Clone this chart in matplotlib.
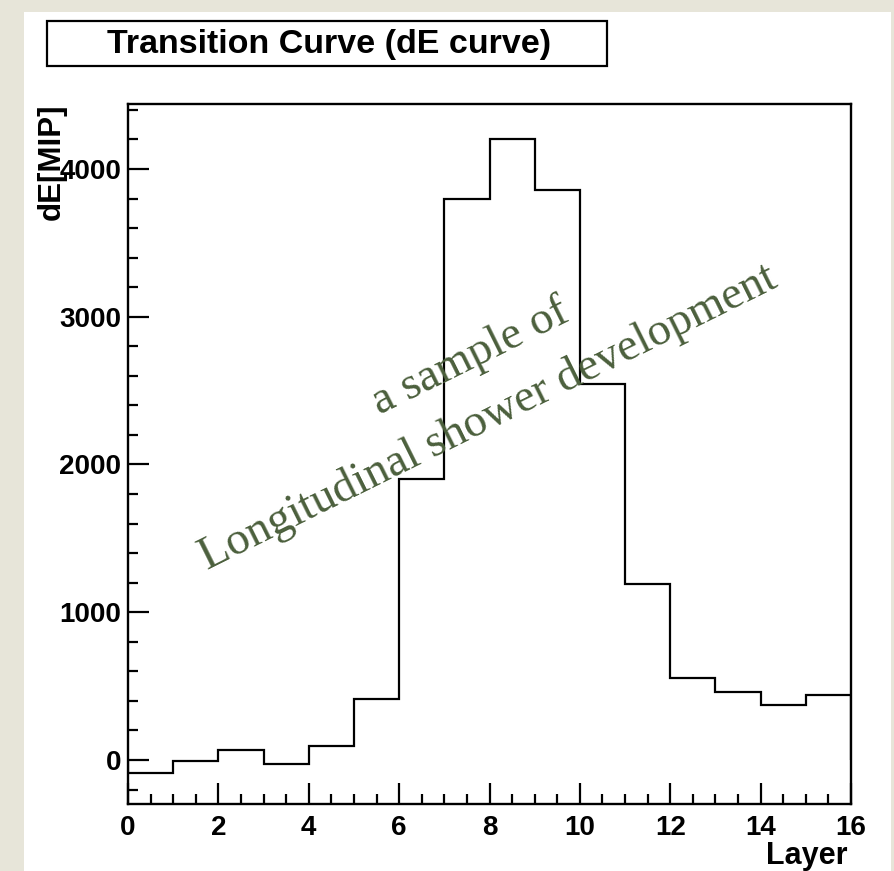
import matplotlib
matplotlib.use("Agg")
import matplotlib.pyplot as plt
from matplotlib.patches import Rectangle
from matplotlib.ticker import MultipleLocator
import numpy as np

# dE per layer (MIP), one bin per layer
layer_edges = list(range(17))
dE_values = [-90, -9, 68, -27, 95, 413, 1905, 3794, 4206, 3855,
             2542, 1191, 553, 458, 372, 440]

title_text = "Transition Curve (dE curve)"
note_lines = ["a sample of", "Longitudinal shower development"]

W, H = 894, 871
fig = plt.figure(figsize=(W / 100, H / 100), dpi=100)
fig.patch.set_facecolor("#e7e5d9")

# white canvas behind the pad
fig.add_artist(Rectangle((24 / W, 0), (891 - 24) / W, (H - 12) / H,
                         transform=fig.transFigure, facecolor="white",
                         edgecolor="none", zorder=0))

ax = fig.add_axes([128 / W, 1 - 804 / H, (851 - 128) / W, (804 - 104) / H])
ax.set_facecolor("white")

ax.stairs(dE_values, layer_edges, color="black", linewidth=1.6)

ax.set_xlim(0, 16)
ax.set_ylim(-298, 4440)
ax.xaxis.set_major_locator(MultipleLocator(2))
ax.xaxis.set_minor_locator(MultipleLocator(0.5))
ax.yaxis.set_major_locator(MultipleLocator(1000))
ax.yaxis.set_minor_locator(MultipleLocator(200))

for side in ("left", "bottom", "right", "top"):
    ax.spines[side].set_linewidth(1.7)
ax.tick_params(which="both", direction="in", top=False, right=False, width=1.6)
ax.tick_params(which="major", length=15)
ax.tick_params(which="minor", length=7.5)
ax.tick_params(axis="x", which="major", pad=8)
ax.tick_params(axis="y", which="major", pad=5)
for lab in ax.get_xticklabels() + ax.get_yticklabels():
    lab.set_fontfamily("Liberation Sans")
    lab.set_fontweight("bold")
    lab.set_fontsize(20)

# axis titles placed the ROOT way: flush to the axis ends
fig.text(848 / W, 1 - 864 / H, "Layer", ha="right", va="baseline",
         fontsize=22, fontweight="bold", family="Liberation Sans")
fig.text(52 / W, 1 - 104 / H, "dE[MIP]", ha="center", va="top", rotation=90,
         fontsize=22.5, fontweight="bold", family="Liberation Sans")

# title box
fig.add_artist(Rectangle((47 / W, 1 - 66 / H), (607 - 47) / W, 45 / H,
                         transform=fig.transFigure, facecolor="white",
                         edgecolor="black", linewidth=1.6, zorder=3))
fig.text(329 / W, 1 - 44 / H, title_text, ha="center", va="center",
         fontsize=24.5, fontweight="bold", family="Liberation Sans", zorder=4)

# slanted note over the histogram
note_color = "#4b5f3c"
fig.text(470 / W, 1 - 357 / H, note_lines[0], ha="center", va="center",
         rotation=26.4, rotation_mode="anchor", fontsize=33.5,
         family="Liberation Serif", color=note_color)
fig.text(488 / W, 1 - 418 / H, note_lines[1], ha="center", va="center",
         rotation=26.4, rotation_mode="anchor", fontsize=33.5,
         family="Liberation Serif", color=note_color)

fig.savefig("out.png", dpi=100, facecolor=fig.get_facecolor())
